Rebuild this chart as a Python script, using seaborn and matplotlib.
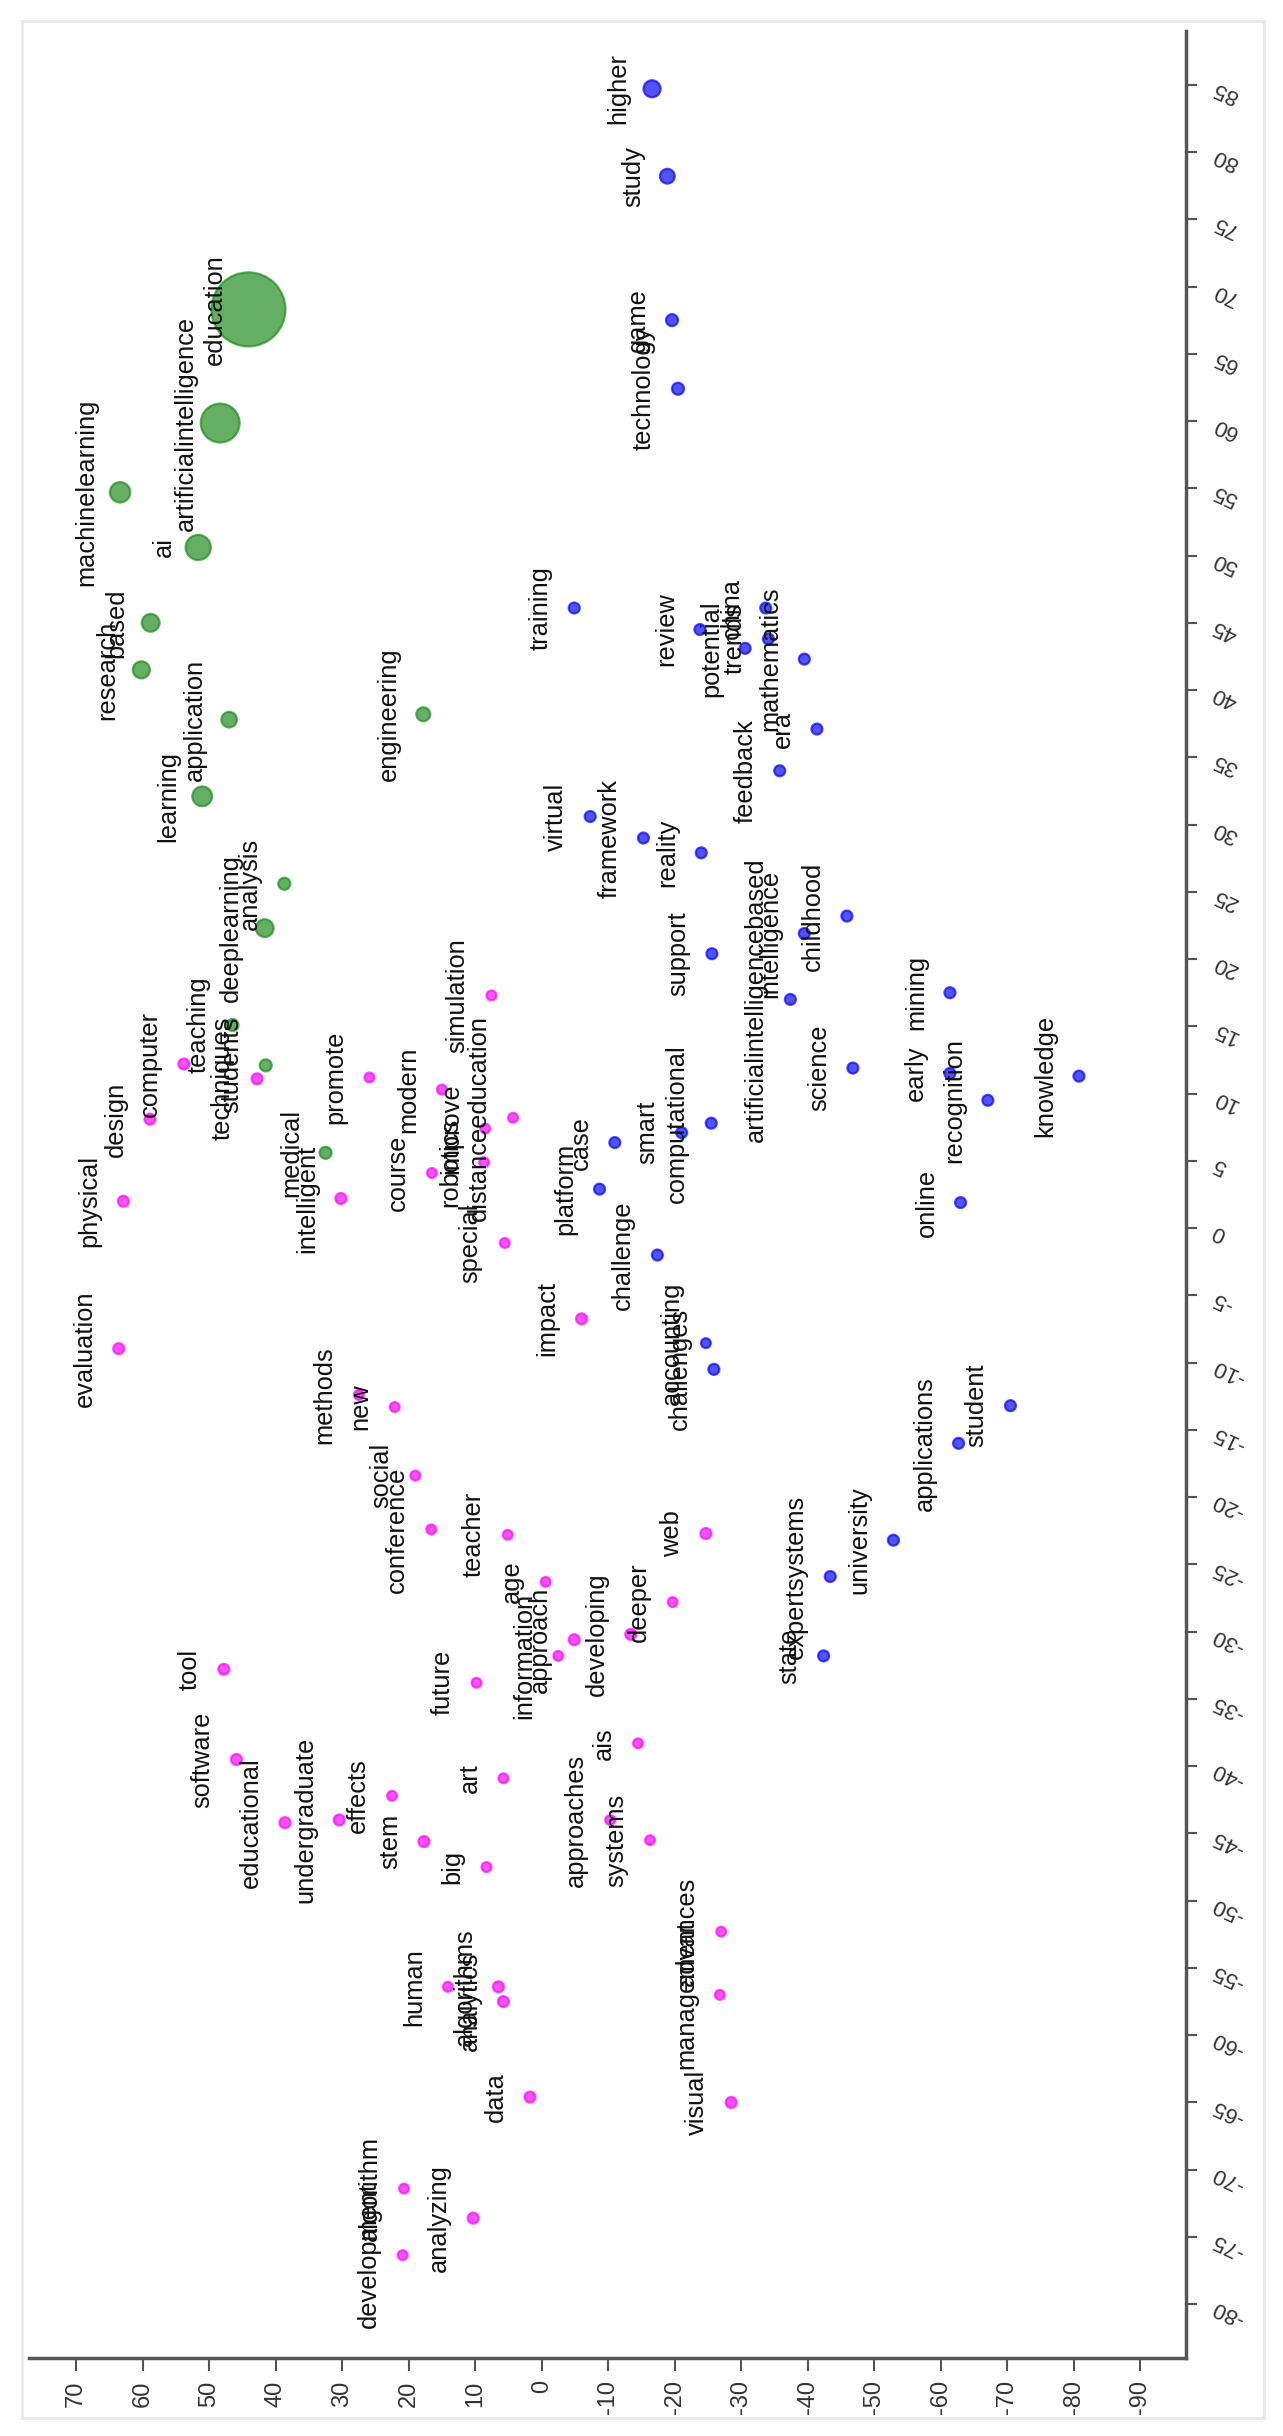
import pandas as pd
import matplotlib.pyplot as plt
from matplotlib.patches import Rectangle
import seaborn as sns

# ---------------------------------------------
# keyword map data (chart is drawn turned on its side)
# dim1 -> vertical axis (right ticks), dim2 -> horizontal axis (bottom ticks)
# ---------------------------------------------
words_green = [
    "education", "artificialintelligence", "machinelearning", "ai", "based", "research",
    "application", "learning", "engineering", "analysis", "deeplearning", "teaching",
    "students", "medical",
]
words_blue = [
    "higher", "study", "game", "technology", "training", "review", "potential", "china",
    "trends", "mathematics", "era", "feedback", "virtual", "framework", "reality",
    "childhood", "intelligence", "support", "artificialintelligencebased", "mining",
    "science", "early", "knowledge", "recognition", "computational", "smart", "case",
    "platform", "online", "challenge", "accounting", "challenges", "student",
    "applications", "university", "expertsystems", "state",
]
words_magenta = [
    "computer", "design", "physical", "techniques", "intelligent", "promote", "modern",
    "course", "simulation", "improve", "robotics", "distanceeducation", "special",
    "evaluation", "impact", "methods", "new", "social", "conference", "teacher", "age",
    "information", "approach", "developing", "deeper", "web", "future", "tool",
    "software", "educational", "undergraduate", "effects", "stem", "art", "big",
    "approaches", "ais", "systems", "human", "algorithms", "analytics", "data",
    "algorithm", "development", "analyzing", "advances", "management", "visual",
]

dim2_green = [44.1, 48.35, 63.4, 51.65, 58.8, 60.2, 47.0, 51.05, 17.8, 38.7, 41.65,
              46.5, 41.5, 32.5]
dim1_green = [68.3, 59.85, 54.7, 50.6, 45.0, 41.5, 37.8, 32.1, 38.2, 25.6, 22.3,
              15.1, 12.1, 5.6]
freq_green = [225, 62, 17, 26, 13, 12, 10, 16, 8, 6, 13, 6, 6, 6]

dim2_blue = [-16.6, -18.9, -19.6, -20.5, -4.9, -23.8, -30.6, -33.7, -34.1, -39.5,
             -41.4, -35.8, -7.3, -15.3, -24.0, -45.9, -39.5, -25.6, -37.4, -61.4,
             -46.8, -61.4, -80.8, -67.1, -25.5, -21.05, -11.0, -8.7, -63.0, -17.4,
             -24.7, -25.9, -70.5, -62.7, -52.9, -43.4, -42.4]
dim1_blue = [84.7, 78.2, 67.5, 62.4, 46.1, 44.5, 43.1, 46.1, 43.8, 42.3,
             37.1, 34.0, 30.6, 29.0, 27.9, 23.2, 21.9, 20.4, 17.0, 17.5,
             11.9, 11.5, 11.3, 9.5, 7.8, 7.1, 6.36, 2.9, 1.9, -2.0,
             -8.55, -10.5, -13.2, -16.0, -23.2, -25.9, -31.8]
freq_blue = [12, 9, 6, 6, 5, 5, 5, 5, 5, 5,
             5, 5, 5, 5, 5, 5, 5, 5, 5, 5,
             5, 5, 5, 5, 5, 5, 5, 5, 5, 5,
             4, 5, 5, 5, 5, 5, 5]

dim2_magenta = [53.8, 58.9, 62.9, 42.8, 30.2, 25.9, 15.0, 16.5, 7.55, 8.5,
                8.65, 4.3, 5.55, 63.6, -6.0, 27.5, 22.1, 19.0, 16.6, 5.1,
                -0.6, -2.5, -4.9, -13.4, -19.7, -24.7, 9.8, 47.8, 45.9, 38.6,
                30.45, 22.5, 17.7, 5.75, 8.3, -10.3, -14.5, -16.3, 14.1, 6.5,
                5.75, 1.75, 20.7, 20.9, 10.3, -27.0, -26.8, -28.5]
dim1_magenta = [12.2, 8.1, 2.0, 11.1, 2.2, 11.2, 10.3, 4.1, 17.3, 7.4,
                4.9, 8.2, -1.1, -8.96, -6.74, -12.4, -13.3, -18.4, -22.4, -22.8,
                -26.3, -31.8, -30.6, -30.2, -27.8, -22.7, -33.8, -32.8, -39.5, -44.2,
                -44.0, -42.2, -45.6, -40.9, -47.5, -44.0, -38.3, -45.5, -56.4, -56.4,
                -57.5, -64.6, -71.4, -76.35, -73.6, -52.3, -57.0, -65.0]
freq_magenta = [5, 5, 5, 5, 5, 4, 4, 4, 4, 4,
                4, 4, 4, 5, 5, 4, 4, 4, 4, 4,
                4, 4, 5, 5, 4, 5, 4, 5, 5, 5,
                5, 4, 5, 4, 4, 4, 4, 4, 4, 5,
                5, 5, 4, 4, 5, 4, 4, 5]

df = pd.DataFrame({
    "word": words_green + words_blue + words_magenta,
    "cluster": [1] * len(words_green) + [3] * len(words_blue) + [2] * len(words_magenta),
    "dim1": dim1_green + dim1_blue + dim1_magenta,
    "dim2": dim2_green + dim2_blue + dim2_magenta,
    "freq": freq_green + freq_blue + freq_magenta,
})

sns.set_style("white")
plt.rcParams['font.family'] = ['Liberation Sans', 'DejaVu Sans']
plt.rcParams['axes.unicode_minus'] = False

fig = plt.figure(figsize=(12.83, 24.36), dpi=100)
ax = fig.add_axes([0.0226, 0.0320, 0.9018, 0.9553])

palette = {1: "#1a8a1a", 2: "#ff00ff", 3: "#0000ff"}
sns.scatterplot(data=df, x="dim2", y="dim1", hue="cluster", size="freq",
                sizes=(50, 2840), size_norm=(4, 225), palette=palette,
                alpha=0.68, edgecolor="face", linewidth=1.6, legend=False, ax=ax)

for w, x, y in zip(df["word"], df["dim2"], df["dim1"]):
    ax.annotate(w, (x, y), xytext=(-24.5, 0), textcoords="offset points",
                rotation=90, ha="center", va="center", fontsize=18.3, color="#111111")

ax.set_xlim(77.1, -96.9)
ax.set_ylim(-84, 89)
ax.set_xticks(range(70, -91, -10))
ax.set_yticks(range(-80, 86, 5))
ax.yaxis.tick_right()
ax.set_xlabel("")
ax.set_ylabel("")

for side in ["left", "top"]:
    ax.spines[side].set_visible(False)
for side in ["bottom", "right"]:
    ax.spines[side].set_visible(True)
    ax.spines[side].set_color("#555555")
    ax.spines[side].set_linewidth(2.5)

ax.tick_params(axis="x", direction="out", bottom=True, length=9, width=1.5,
               color="#555555", labelsize=17, labelcolor="#333333",
               labelrotation=90, pad=7)
ax.tick_params(axis="y", direction="out", right=True, left=False, length=8, width=1.5,
               color="#555555", labelsize=16, labelcolor="#333333",
               labelrotation=155, pad=9)

# light frame around the whole picture
fig.add_artist(Rectangle((22 / 1283, 1 - 2418 / 2436), 1242 / 1283, 2397 / 2436,
                         transform=fig.transFigure, fill=False,
                         edgecolor="#e8e8e8", lw=2))

fig.savefig("out.png", dpi=100)
